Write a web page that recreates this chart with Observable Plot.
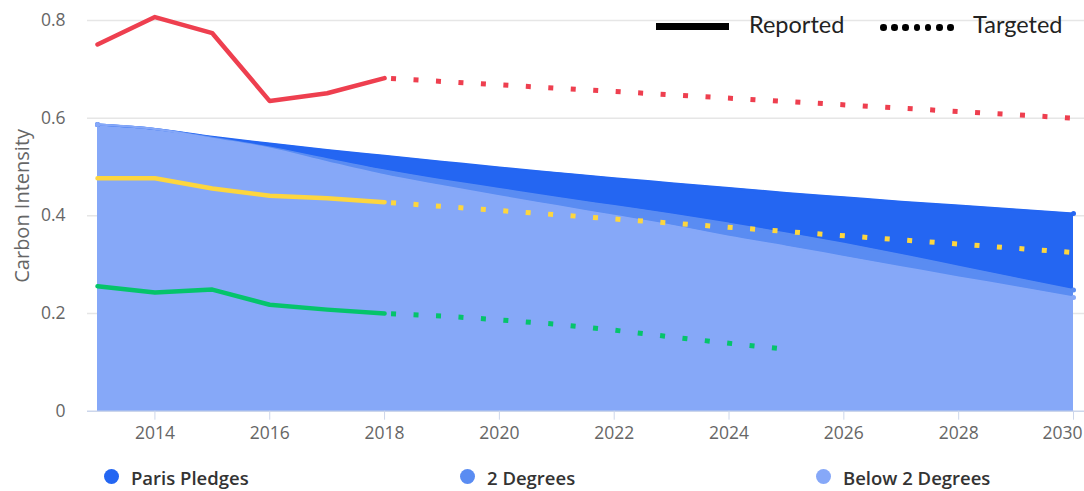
<!DOCTYPE html>
<html>
<head>
<meta charset="utf-8">
<script src="https://cdn.jsdelivr.net/npm/d3@7"></script>
<script src="https://cdn.jsdelivr.net/npm/@observablehq/plot@0.6"></script>
<style>
  html, body { margin: 0; padding: 0; background: #fff; }
  #wrap { position: relative; width: 1084px; height: 491px; overflow: hidden; font-family: "Open Sans", sans-serif; }
  #chart svg { display: block; }
  .toplg { position: absolute; font-family: Lato, "Open Sans", sans-serif; font-size: 23.5px; color: #222; line-height: 1; }
  .botlg { position: absolute; font-family: "Open Sans", sans-serif; font-weight: 600; font-size: 18.5px; color: #333; line-height: 1; white-space: nowrap; }
  .sym { position: absolute; border-radius: 50%; width: 15px; height: 15px; }
</style>
</head>
<body>
<div id="wrap">
  <div id="chart"></div>
</div>
<script>
// ---- data ----
const years = [2013, 2014, 2015, 2016, 2017, 2018, 2019, 2020, 2021, 2022, 2023, 2024, 2025, 2026, 2027, 2028, 2029, 2030];
const parisPledges    = [0.587, 0.578, 0.562, 0.548, 0.535, 0.523, 0.511, 0.499, 0.488, 0.477, 0.467, 0.457, 0.447, 0.438, 0.429, 0.421, 0.413, 0.405];
const twoDegrees      = [0.587, 0.578, 0.560, 0.540, 0.516, 0.493, 0.473, 0.455, 0.437, 0.420, 0.403, 0.384, 0.364, 0.343, 0.320, 0.296, 0.272, 0.248];
const belowTwoDegrees = [0.587, 0.578, 0.558, 0.538, 0.510, 0.483, 0.461, 0.440, 0.420, 0.400, 0.380, 0.357, 0.337, 0.316, 0.295, 0.274, 0.254, 0.233];

const reportedYears  = [2013, 2014, 2015, 2016, 2017, 2018];
const redReported    = [0.751, 0.807, 0.774, 0.635, 0.651, 0.682];
const yellowReported = [0.477, 0.477, 0.456, 0.441, 0.436, 0.428];
const greenReported  = [0.256, 0.243, 0.249, 0.218, 0.208, 0.200];

const redTargetYears    = [2018, 2030];
const redTargeted       = [0.682, 0.600];
const yellowTargetYears = [2018, 2030];
const yellowTargeted    = [0.428, 0.325];
const greenTargetYears  = [2018, 2019, 2020, 2021, 2022, 2023, 2024, 2025];
const greenTargeted     = [0.200, 0.195, 0.187, 0.178, 0.166, 0.152, 0.139, 0.127];

const areaNames = ["Paris Pledges", "2 Degrees", "Below 2 Degrees"];
const areaColors = ["#2466f2", "#5a8cf2", "#86a8f8"];
const xTicks = [2014, 2016, 2018, 2020, 2022, 2024, 2026, 2028, 2030];
const yTicks = [0, 0.2, 0.4, 0.6, 0.8];
const yTitle = "Carbon Intensity";
const legendTop = ["Reported", "Targeted"];

const RED = "#ee3f4f", YELLOW = "#fdd63f", GREEN = "#05c46b";

// ---- tables ----
const rows = (xs, ys) => xs.map((x, i) => ({x, y: ys[i]}));
const areaSeries = [parisPledges, twoDegrees, belowTwoDegrees].map(v => rows(years, v));
const ends = d => [d[0], d[d.length - 1]];
const lastTick = xTicks[xTicks.length - 1];

const dotted = {strokeWidth: 5, strokeDasharray: "5 17.5", strokeDashoffset: 16, strokeLinecap: "butt"};
const solid = {strokeWidth: 4.5, strokeLinecap: "round", strokeLinejoin: "round"};

const marks = [
  Plot.ruleY(yTicks.filter(v => v > 0), {stroke: "#e6e6e6", strokeWidth: 1.5}),
];
areaSeries.forEach((d, i) => {
  marks.push(Plot.areaY(d, {x: "x", y: "y", fill: areaColors[i], curve: "monotone-x"}));
});
areaSeries.forEach((d, i) => {
  marks.push(Plot.lineY(d, {x: "x", y: "y", stroke: areaColors[i], strokeWidth: 2, curve: "monotone-x"}));
  marks.push(Plot.dot(ends(d), {x: "x", y: "y", fill: areaColors[i], r: 2.5}));
});
marks.push(
  Plot.ruleY([0], {stroke: "#ccd6eb", strokeWidth: 1.5}),
  Plot.axisY({ticks: yTicks, tickSize: 0, tickPadding: 22, fill: "#666", fontSize: 17.5, label: null,
              tickFormat: d => d === 0 ? "0" : d.toFixed(1)}),
  Plot.axisX({ticks: xTicks, tickSize: 9, tickPadding: 6, stroke: "#ccd6eb", fill: "#666", fontSize: 17.5, label: null,
              tickFormat: d => d === lastTick ? "" : String(d)}),
  Plot.text([lastTick], {x: d => d, frameAnchor: "bottom", text: d => String(d), textAnchor: "end", lineAnchor: "top",
              dx: 9, dy: 15, fill: "#666", fontSize: 17.5}),
  Plot.text([yTitle], {frameAnchor: "left", text: d => d, rotate: -90, textAnchor: "middle", dx: -65, dy: -10, fill: "#666", fontSize: 20}),
  Plot.line(rows(redTargetYears, redTargeted), {x: "x", y: "y", stroke: RED, ...dotted}),
  Plot.line(rows(yellowTargetYears, yellowTargeted), {x: "x", y: "y", stroke: YELLOW, ...dotted}),
  Plot.line(rows(greenTargetYears, greenTargeted), {x: "x", y: "y", stroke: GREEN, ...dotted}),
  Plot.line(rows(reportedYears, redReported), {x: "x", y: "y", stroke: RED, ...solid}),
  Plot.line(rows(reportedYears, yellowReported), {x: "x", y: "y", stroke: YELLOW, ...solid}),
  Plot.line(rows(reportedYears, greenReported), {x: "x", y: "y", stroke: GREEN, ...solid})
);

const chart = Plot.plot({
  width: 1084,
  height: 445,
  marginLeft: 87,
  marginRight: 0,
  marginTop: 20,
  marginBottom: 34.3,
  insetLeft: 10,
  insetRight: 11,
  style: {fontFamily: "'Open Sans', sans-serif", background: "transparent", overflow: "visible"},
  x: {domain: [2013, 2030]},
  y: {domain: [0, 0.8]},
  marks
});
document.getElementById("chart").appendChild(chart);

// ---- legends (HTML) ----
const wrap = document.getElementById("wrap");
function el(cls, style, text) {
  const e = document.createElement("div");
  e.className = cls;
  Object.assign(e.style, style);
  if (text != null) e.textContent = text;
  wrap.appendChild(e);
  return e;
}
// top legend
el("", {position: "absolute", left: "656px", top: "23px", width: "73px", height: "7px", background: "#000"});
el("toplg", {left: "749px", top: "13px"}, legendTop[0]);
for (let i = 0; i < 7; i++) {
  el("", {position: "absolute", left: (880 + i * 11.2) + "px", top: "24px", width: "6.5px", height: "6.5px", borderRadius: "50%", background: "#000"});
}
el("toplg", {left: "973px", top: "13px"}, legendTop[1]);
// bottom legend
const lgX = [104, 460, 816];
areaNames.forEach((name, i) => {
  el("sym", {left: lgX[i] + "px", top: "469px", background: areaColors[i]});
  el("botlg", {left: (lgX[i] + 27) + "px", top: "469px"}, name);
});
</script>
</body>
</html>
